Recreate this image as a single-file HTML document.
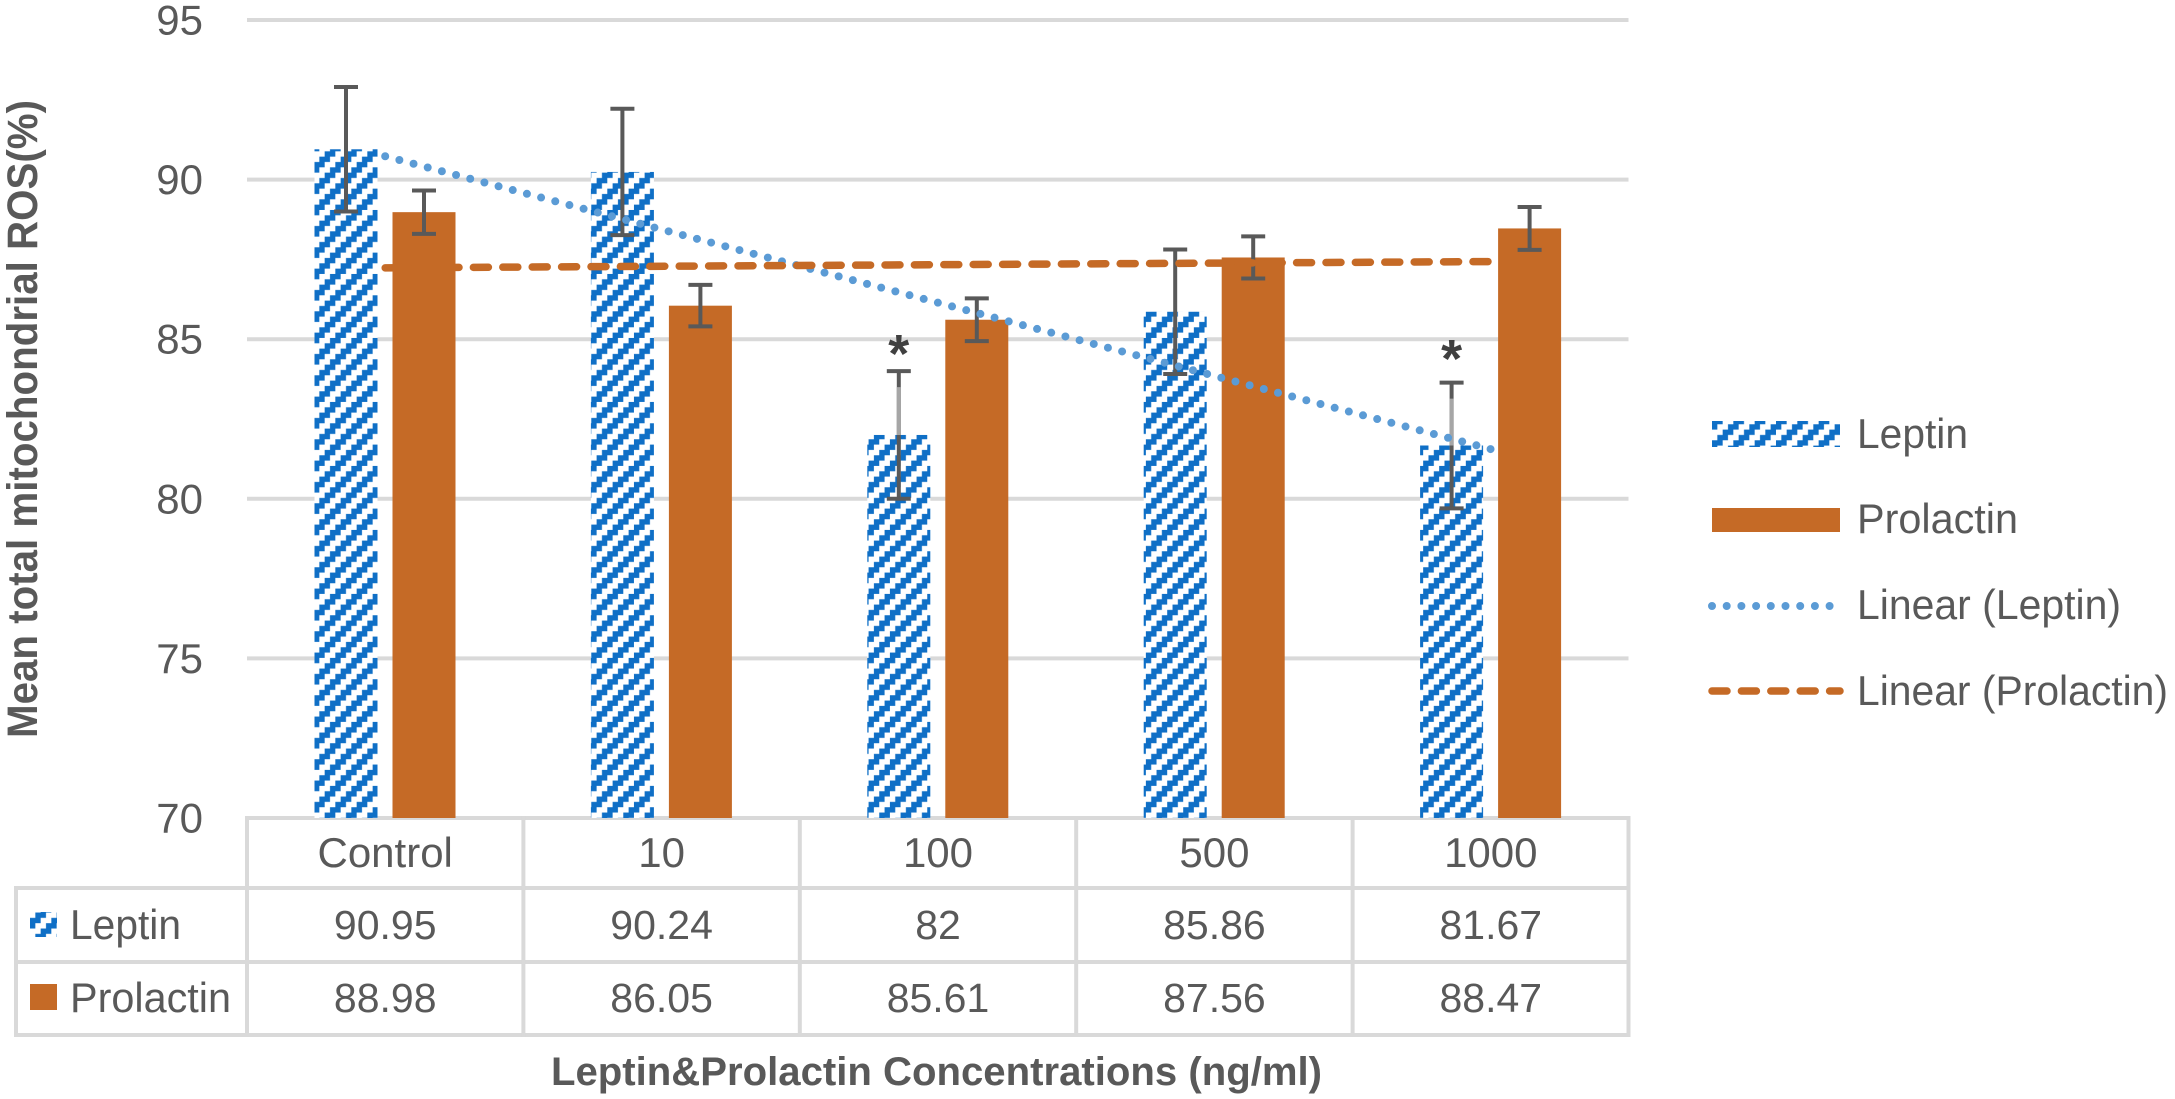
<!DOCTYPE html>
<html lang="en">
<head>
<meta charset="utf-8">
<title>Mean total mitochondrial ROS</title>
<style>
html,body{margin:0;padding:0;background:#fff;}
svg{display:block;font-family:"Liberation Sans",Arial,sans-serif;}
text{fill:#595959;}
</style>
</head>
<body>
<svg id="chart" xmlns="http://www.w3.org/2000/svg" width="2175" height="1099" viewBox="0 0 2175 1099">
<defs>
<pattern id="hatch" patternUnits="userSpaceOnUse" width="21.33" height="21.33" patternTransform="translate(314 18)">
<rect width="21.33" height="21.33" fill="#ffffff"/>
<path d="M16 0h5.33v5.33H16zM0 0h5.33v5.33H0zM10.67 5.33h10.66v5.34H10.67zM5.33 10.67H16V16H5.33zM0 16h10.67v5.33H0z" fill="#0f6fc6"/>
</pattern>
<pattern id="hatch-legend" patternUnits="userSpaceOnUse" width="21.33" height="21.33" patternTransform="translate(1712 19)">
<rect width="21.33" height="21.33" fill="#ffffff"/>
<path d="M16 0h5.33v5.33H16zM0 0h5.33v5.33H0zM10.67 5.33h10.66v5.34H10.67zM5.33 10.67H16V16H5.33zM0 16h10.67v5.33H0z" fill="#0f6fc6"/>
</pattern>
<pattern id="hatch-table" patternUnits="userSpaceOnUse" width="21.33" height="21.33" patternTransform="translate(30 6)">
<rect width="21.33" height="21.33" fill="#ffffff"/>
<path d="M16 0h5.33v5.33H16zM0 0h5.33v5.33H0zM10.67 5.33h10.66v5.34H10.67zM5.33 10.67H16V16H5.33zM0 16h10.67v5.33H0z" fill="#0f6fc6"/>
</pattern>
</defs>
<g id="grid"></g>
<g id="bars"></g>
<g id="errors"></g>
<g id="trends"></g>
<g id="stars"></g>
<g id="ticks"></g>
<g id="table"></g>
<text transform="translate(37 738) rotate(-90)" font-size="43" font-weight="bold" textLength="638" lengthAdjust="spacingAndGlyphs">Mean total mitochondrial ROS(%)</text>
<text x="551" y="1085" font-size="40" font-weight="bold" textLength="771" lengthAdjust="spacingAndGlyphs">Leptin&amp;Prolactin Concentrations (ng/ml)</text>
<g>
<rect x="1712" y="421" width="128" height="26" fill="url(#hatch-legend)"/>
<text x="1857" y="448" font-size="42" textLength="111" lengthAdjust="spacingAndGlyphs">Leptin</text>
<rect x="1712" y="508" width="128" height="24" fill="#c56a26"/>
<text x="1857" y="533" font-size="42" textLength="161" lengthAdjust="spacingAndGlyphs">Prolactin</text>
<line x1="1712" y1="606" x2="1832" y2="606" stroke="#5b9bd5" stroke-width="8" stroke-linecap="round" stroke-dasharray="0 14.7"/>
<text x="1857" y="619" font-size="42" textLength="264" lengthAdjust="spacingAndGlyphs">Linear (Leptin)</text>
<line x1="1712" y1="691" x2="1840" y2="691" stroke="#c56a26" stroke-width="7.5" stroke-linecap="round" stroke-dasharray="15 14.4"/>
<text x="1857" y="705" font-size="42" textLength="311" lengthAdjust="spacingAndGlyphs">Linear (Prolactin)</text>
</g>
</svg>
<script>
var categories = ['Control', '10', '100', '500', '1000'];
var leptinValues = [90.95, 90.24, 82, 85.86, 81.67];
var prolactinValues = [88.98, 86.05, 85.61, 87.56, 88.47];
var leptinErrors = [1.95, 1.98, 2, 1.95, 1.97];
var prolactinErrors = [0.68, 0.65, 0.67, 0.66, 0.67];
var yTickLabels = [70, 75, 80, 85, 90, 95];
var starCategories = [2, 4];
var starLevels = [84.66, 84.5];

var NS = 'http://www.w3.org/2000/svg';
var PLOT_LEFT = 247, BAND = 276.4, PLOT_RIGHT = 1628.5;
var Y0 = 818, UNIT = 31.92;
var BAR_W = 63;

function yScale(v) { return Y0 - (v - 70) * UNIT; }
function centerX(i) { return PLOT_LEFT + BAND * (i + 0.5); }
function leptinX(i) { return centerX(i) - 70.7; }
function prolactinX(i) { return centerX(i) + 7.3; }

function make(tag, parent, attrs, txt) {
  var el = document.createElementNS(NS, tag);
  for (var k in attrs) { el.setAttribute(k, attrs[k]); }
  if (txt !== undefined) { el.textContent = txt; }
  parent.appendChild(el);
  return el;
}
function byId(id) { return document.getElementById(id); }

/* gridlines and y ticks */
yTickLabels.forEach(function (t) {
  var g = make('line', byId('grid'), { x1: PLOT_LEFT, x2: PLOT_RIGHT, y1: yScale(t), y2: yScale(t), stroke: '#d9d9d9', 'stroke-width': 4 });
  
  
  var l = make('text', byId('ticks'), { x: 203, y: yScale(t) + 14.5, 'font-size': 42, 'text-anchor': 'end' }, String(t));
  
  
});

/* bars */
categories.forEach(function (c, i) {
  var a = make('rect', byId('bars'), { x: leptinX(i), y: yScale(leptinValues[i]), width: BAR_W, height: Y0 - yScale(leptinValues[i]), fill: 'url(#hatch)' });
  
  
  var b = make('rect', byId('bars'), { x: prolactinX(i), y: yScale(prolactinValues[i]), width: BAR_W, height: Y0 - yScale(prolactinValues[i]), fill: '#c56a26' });
  
  
});

/* error bars */
function errorBar(cx, value, err) {
  var top = yScale(value + err), bottom = yScale(value - err);
  var s = make('line', byId('errors'), { x1: cx, x2: cx, y1: top, y2: bottom, stroke: '#595959', 'stroke-width': 4 });
  
  
  var t = make('line', byId('errors'), { x1: cx - 12, x2: cx + 12, y1: top, y2: top, stroke: '#595959', 'stroke-width': 4 });
  
  
  var u = make('line', byId('errors'), { x1: cx - 12, x2: cx + 12, y1: bottom, y2: bottom, stroke: '#595959', 'stroke-width': 4 });
  
  
}
categories.forEach(function (c, i) {
  errorBar(leptinX(i) + BAR_W / 2, leptinValues[i], leptinErrors[i]);
  errorBar(prolactinX(i) + BAR_W / 2, prolactinValues[i], prolactinErrors[i]);
});

/* lighter stem sections above starred bars */
starCategories.forEach(function (i) {
  var cx = leptinX(i) + BAR_W / 2;
  var f = make('line', byId('errors'), { x1: cx, x2: cx, y1: yScale(leptinValues[i] + leptinErrors[i]) + 16, y2: yScale(leptinValues[i]), stroke: '#a6a6a6', 'stroke-width': 4 });
  
  
});

/* linear trend lines derived from the series */
function regression(vals) {
  var n = vals.length, sx = 0, sy = 0, sxy = 0, sxx = 0;
  vals.forEach(function (v, i) { sx += i; sy += v; sxy += i * v; sxx += i * i; });
  var m = (n * sxy - sx * sy) / (n * sxx - sx * sx);
  return { m: m, b: (sy - m * sx) / n };
}
function trend(vals, color, width, dash, name) {
  var r = regression(vals), last = vals.length - 1;
  var t = make('line', byId('trends'), {
    x1: centerX(0), y1: yScale(r.b), x2: centerX(last), y2: yScale(r.b + r.m * last),
    stroke: color, 'stroke-width': width, 'stroke-linecap': 'round', 'stroke-dasharray': dash
  });
  
  
}
trend(leptinValues, '#5b9bd5', 8, '0 14.66', 'trend-leptin');
trend(prolactinValues, '#c56a26', 7.5, '15 14.4', 'trend-prolactin');

/* significance stars */
starCategories.forEach(function (i, k) {
  var s = make('text', byId('stars'), { x: leptinX(i) + BAR_W / 2, y: yScale(starLevels[k]) + 22, 'font-size': 54, 'font-weight': 'bold', 'text-anchor': 'middle', style: 'fill:#404040' }, '*');
  
  
});

/* data table */
var tbl = byId('table');
var TABLE_LEFT = 16, ROW_A = 888, ROW_B = 962, ROW_C = 1035;
function tline(x1, y1, x2, y2) {
  var l = make('line', tbl, { x1: x1, y1: y1, x2: x2, y2: y2, stroke: '#d9d9d9', 'stroke-width': 4, 'stroke-linecap': 'square' });
  
  
}
[ROW_A, ROW_B, ROW_C].forEach(function (y) { tline(TABLE_LEFT, y, PLOT_RIGHT, y); });
tline(TABLE_LEFT, ROW_A, TABLE_LEFT, ROW_C);
categories.forEach(function (c, i) { tline(PLOT_LEFT + BAND * i, Y0, PLOT_LEFT + BAND * i, ROW_C); });
tline(PLOT_RIGHT, Y0, PLOT_RIGHT, ROW_C);

categories.forEach(function (c, i) {
  var h = make('text', tbl, { x: centerX(i), y: 867, 'font-size': 42, 'text-anchor': 'middle' }, c);
  
  
  var a = make('text', tbl, { x: centerX(i), y: 939, 'font-size': 41, 'text-anchor': 'middle' }, String(leptinValues[i]));
  
  
  var b = make('text', tbl, { x: centerX(i), y: 1012, 'font-size': 41, 'text-anchor': 'middle' }, String(prolactinValues[i]));
  
  
});

var s1 = make('rect', tbl, { x: 30, y: 912, width: 27, height: 25, fill: 'url(#hatch-table)' });


var s2 = make('rect', tbl, { x: 30, y: 984, width: 27, height: 26, fill: '#c56a26' });


var n1 = make('text', tbl, { x: 70, y: 939, 'font-size': 42, textLength: 111, lengthAdjust: 'spacingAndGlyphs' }, 'Leptin');


var n2 = make('text', tbl, { x: 70, y: 1012, 'font-size': 42, textLength: 161, lengthAdjust: 'spacingAndGlyphs' }, 'Prolactin');


</script>
</body>
</html>
